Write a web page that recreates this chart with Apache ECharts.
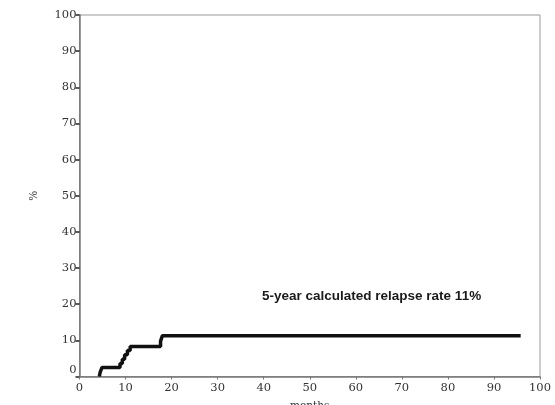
<!DOCTYPE html>
<html>
<head>
<meta charset="utf-8">
<script src="https://cdn.jsdelivr.net/npm/echarts@6/dist/echarts.min.js"></script>
<style>
  html, body { margin: 0; padding: 0; background: #fff; }
  #chart { width: 555px; height: 405px; }
</style>
</head>
<body>
<div id="chart"></div>
<script>
// cumulative relapse curve (months, %)
var months  = [4.3, 4.5, 4.9, 8.8, 9.3, 9.8, 10.4, 11.0, 17.6, 18.0, 95.8];
var relapse = [0,   1.2, 2.5, 3.6, 4.8, 6.0, 7.2,  8.3,  9.8,  11.3, 11.3];
var xTicks = [0, 10, 20, 30, 40, 50, 60, 70, 80, 90, 100];
var yTicks = [0, 10, 20, 30, 40, 50, 60, 70, 80, 90, 100];
var noteText = '5-year calculated relapse rate 11%';

var curve = [];
for (var i = 0; i < months.length; i++) {
    curve.push([months[i], relapse[i]]);
}

var chart = echarts.init(document.getElementById('chart'), null, { renderer: 'canvas' });
var labelFont = { fontFamily: 'DejaVu Serif', fontSize: 11.5, color: '#333' };

var option = {
    animation: false,
    backgroundColor: '#fff',
    grid: {
        left: 79.5, right: 15, top: 15, bottom: 28.5,
        outerBoundsMode: 'none',
        show: true, borderColor: '#999', borderWidth: 1
    },
    xAxis: {
        type: 'value',
        min: xTicks[0], max: xTicks[xTicks.length - 1], interval: 10,
        name: 'months', nameLocation: 'middle', nameGap: 24,
        nameTextStyle: { fontFamily: 'DejaVu Serif', fontSize: 10.5, color: '#333' },
        axisLine: { show: true, lineStyle: { color: '#777', width: 1.5 } },
        axisTick: { show: true, length: 3, lineStyle: { color: '#777' } },
        axisLabel: Object.assign({ margin: 6 }, labelFont),
        splitLine: { show: false }
    },
    yAxis: {
        type: 'value',
        min: yTicks[0], max: yTicks[yTicks.length - 1], interval: 10,
        name: '%', nameLocation: 'middle', nameGap: 40, nameRotate: 90,
        nameTextStyle: { fontFamily: 'DejaVu Serif', fontSize: 10.5, color: '#444' },
        axisLine: { show: true, lineStyle: { color: '#777', width: 1.5 } },
        axisTick: { show: true, length: 4, lineStyle: { color: '#222', width: 1.5 } },
        axisLabel: Object.assign({
            margin: 3,
            formatter: function (v) { return v === 0 ? '{z|0}' : String(v); },
            rich: { z: Object.assign({ padding: [0, 0, 12, 0] }, labelFont) }
        }, labelFont),
        splitLine: { show: false }
    },
    graphic: [{
        type: 'text',
        left: 262, top: 289,
        style: {
            text: noteText,
            font: 'bold 13.5px "Liberation Sans", Arial, sans-serif',
            fill: '#1a1a1a'
        }
    }],
    series: [{
        type: 'line',
        step: 'end',
        data: curve,
        showSymbol: false,
        lineStyle: { color: '#111', width: 3.5 }
    }]
};
chart.setOption(option);
</script>
</body>
</html>
